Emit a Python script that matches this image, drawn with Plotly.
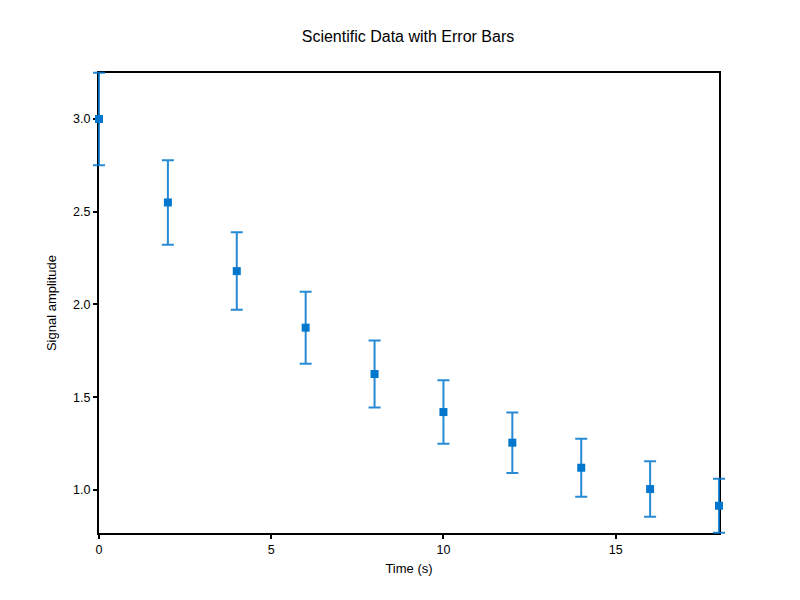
import plotly.graph_objects as go

time_s = [0, 2, 4, 6, 8, 10, 12, 14, 16, 18]
amplitude = [3.00, 2.55, 2.18, 1.875, 1.625, 1.42, 1.255, 1.12, 1.005, 0.915]
amp_err = [0.25, 0.228, 0.209, 0.194, 0.181, 0.171, 0.163, 0.156, 0.150, 0.146]

x_range = [0, 18]
y_range = [0.768, 3.248]
x_ticks = [0, 5, 10, 15]
y_ticks = [1.0, 1.5, 2.0, 2.5, 3.0]

# frame is 620x460 px; the data subplot is padded by a few px on every side
# so that error-bar caps sitting on the frame are not clipped
W, H = 800, 600
pad = 10
frame_w, frame_h = 620, 460
area_w, area_h = frame_w + 2 * pad, frame_h + 2 * pad
dx = pad * (x_range[1] - x_range[0]) / frame_w
dy = pad * (y_range[1] - y_range[0]) / frame_h

fig = go.Figure()
# empty trace so the framed subplot (ticks, box) gets drawn
fig.add_trace(go.Scatter(x=[None], y=[None], mode="markers",
                         showlegend=False, hoverinfo="skip"))
fig.add_trace(go.Scatter(
    x=time_s, y=amplitude, mode="markers",
    xaxis="x2", yaxis="y2",
    marker=dict(symbol="square", size=8, color="#0077cc"),
    error_y=dict(type="data", array=amp_err, visible=True,
                 color="rgba(0,119,204,0.85)", thickness=2, width=6),
    showlegend=False,
))

axis_style = dict(showline=True, linecolor="black", linewidth=2, mirror=True,
                  showgrid=False, zeroline=False, ticks="outside", ticklen=4,
                  tickwidth=2, tickcolor="black",
                  tickfont=dict(size=12.5, color="black"))

# the page body adds an 8px offset, so the margins are shifted to compensate
left, top = 99 - 8 - pad, 73 - 8 - pad
fig.update_layout(
    width=W, height=H,
    font=dict(family="Liberation Sans, Arial, sans-serif", color="black"),
    title=dict(text="Scientific Data with Error Bars", x=0.5, xanchor="center",
               y=0.952, yanchor="middle", font=dict(size=16)),
    plot_bgcolor="rgba(0,0,0,0)", paper_bgcolor="white",
    margin=dict(l=left, r=W - left - area_w, t=top, b=H - top - area_h),
    xaxis=dict(title=dict(text="Time (s)", font=dict(size=13), standoff=8),
               domain=[pad / area_w, 1 - pad / area_w], anchor="y",
               range=x_range, tickvals=x_ticks, **axis_style),
    yaxis=dict(title=dict(text="Signal amplitude", font=dict(size=13), standoff=14),
               domain=[pad / area_h, 1 - pad / area_h], anchor="x",
               range=y_range, tickvals=y_ticks, tickformat=".1f", **axis_style),
    xaxis2=dict(domain=[0, 1], anchor="y2", visible=False,
                range=[x_range[0] - dx, x_range[1] + dx]),
    yaxis2=dict(domain=[0, 1], anchor="x2", visible=False,
                range=[y_range[0] - dy, y_range[1] + dy]),
)

fig.write_html("out.html")
